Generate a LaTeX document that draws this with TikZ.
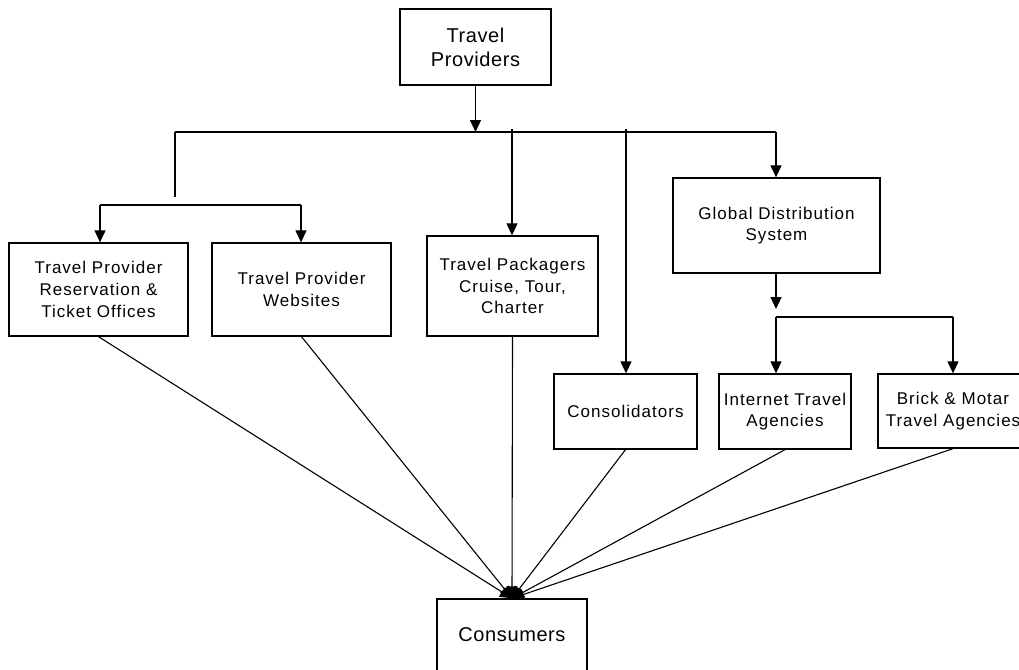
\documentclass[tikz,border=0pt]{standalone}
\usepackage{fontspec}
\setmainfont{Liberation Sans}
\newfontfamily\boxfont{Liberation Sans}[LetterSpace=6]
\newfontfamily\bigboxfont{Liberation Sans}[LetterSpace=3]
\usetikzlibrary{arrows.meta}
\begin{document}
\begin{tikzpicture}[x=1pt,y=-1pt,line width=1.1pt]
  \tikzstyle{box}=[draw,line width=1.3pt,inner sep=0pt,align=center,
    font=\boxfont\fontsize{17}{21.7}\selectfont]
  \tikzstyle{bigbox}=[box,font=\bigboxfont\fontsize{20}{24}\selectfont]
  \tikzstyle{arr}=[-{Triangle[length=12pt,width=11pt]}]
  \useasboundingbox (0,0) rectangle (1019,669);
  \clip (0,0) rectangle (1019,669);
  % boxes
  \node[bigbox,minimum width=151pt,minimum height=76pt] (prov) at (475.5,47) {Travel\\Providers};
  \node[box,minimum width=179pt,minimum height=93pt] (resv) at (98.5,289.5) {Travel Provider\\Reservation \&\\Ticket Offices};
  \node[box,minimum width=179pt,minimum height=93pt] (web) at (301.5,289.5) {Travel Provider\\Websites};
  \node[box,minimum width=171pt,minimum height=100pt] (pack) at (512.5,286) {Travel Packagers\\Cruise, Tour,\\Charter};
  \node[box,minimum width=207pt,minimum height=95pt] (gds) at (776.5,225.5) {Global Distribution\\System};
  \node[box,minimum width=143pt,minimum height=75pt] (cons) at (625.5,411.5) {Consolidators};
  \node[box,minimum width=132pt,minimum height=75pt] (ita) at (785,411.5) {Internet Travel\\Agencies};
  \node[box,minimum width=150pt,minimum height=74pt] (brick) at (953,411) {Brick \& Motar\\Travel Agencies};
  \node[bigbox,minimum width=150pt,minimum height=72pt] (consumer) at (512,635) {Consumers};
  % upper distribution lines
  \coordinate (busL) at (175,132);
  \coordinate (busR) at (776,132);
  \coordinate (dropL) at (175,197);
  \coordinate (splitL) at (100,205);
  \coordinate (splitR) at (301,205);
  \coordinate (tapP) at (512,129);
  \coordinate (tapC) at (626,129);
  \draw[arr] (prov.south) -- (prov.south |- busL);
  \draw (busL) -- (busR);
  \draw[arr] (busR) -- (busR |- gds.north);
  \draw (busL) -- (dropL);
  \draw (splitL) -- (splitR);
  \draw[arr] (splitL) -- (splitL |- resv.north);
  \draw[arr] (splitR) -- (splitR |- web.north);
  \draw[arr] (tapP) -- (tapP |- pack.north);
  \draw[arr] (tapC) -- (tapC |- cons.north);
  % below the GDS
  \coordinate (gdsTip) at (776,309);
  \coordinate (splitG) at (776,317);
  \coordinate (splitB) at (953,317);
  \draw[arr] (gds.south -| gdsTip) -- (gdsTip);
  \draw (splitG) -- (splitB);
  \draw[arr] (splitG) -- (splitG |- ita.north);
  \draw[arr] (splitB) -- (splitB |- brick.north);
  % to the consumers
  \foreach \n in {resv,web,pack,cons,ita,brick}
    \draw[arr] (\n.south) -- (consumer.north);
\end{tikzpicture}
\end{document}
